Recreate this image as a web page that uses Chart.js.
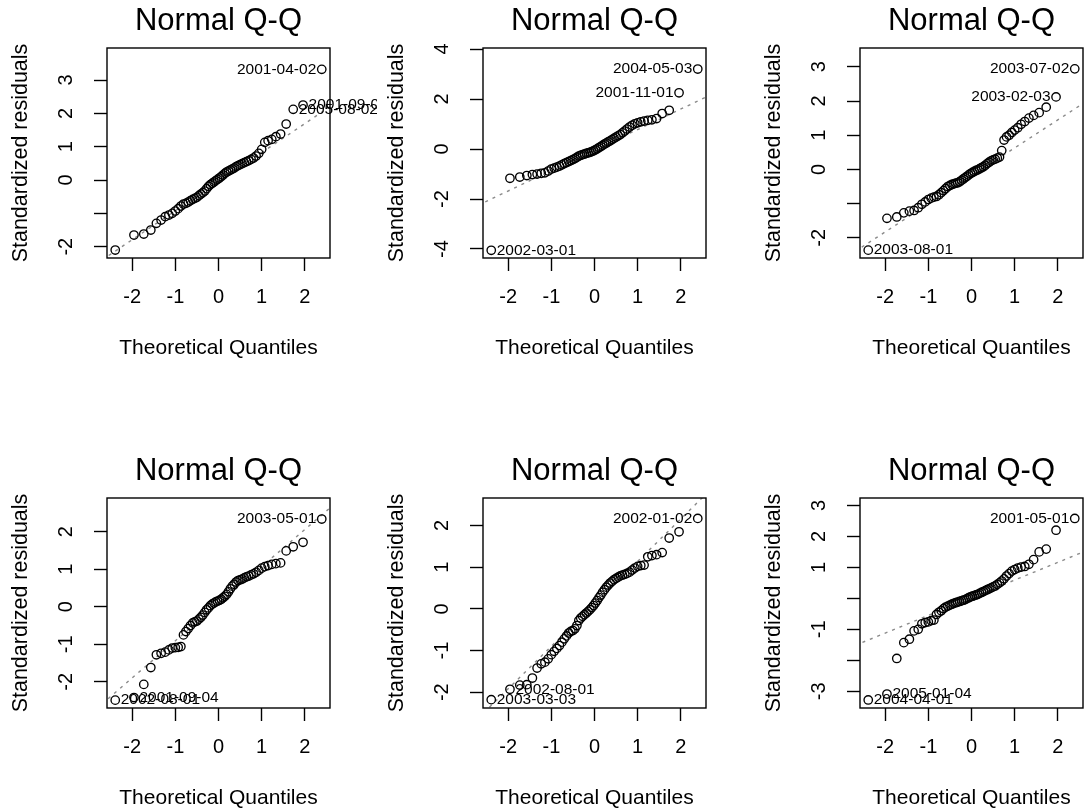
<!DOCTYPE html>
<html>
<head>
<meta charset="utf-8">
<script src="https://cdn.jsdelivr.net/npm/chart.js@4.4.1/dist/chart.umd.min.js"></script>
<style>
  html, body { margin: 0; padding: 0; background: #ffffff; width: 1085px; height: 812px; overflow: hidden; }
  #wrap { position: relative; width: 1085px; height: 812px; overflow: hidden; background: #ffffff; }
  #wrap canvas { position: absolute; }
</style>
</head>
<body>
<div id="wrap"></div>
<script>
// ---------------- DATA ----------------
const theoreticalQuantiles = [-2.394, -1.960, -1.732, -1.569, -1.440, -1.331, -1.235, -1.150, -1.073, -1.001,
  -0.935, -0.872, -0.812, -0.755, -0.701, -0.649, -0.598, -0.549, -0.501, -0.454,
  -0.408, -0.363, -0.319, -0.275, -0.232, -0.189, -0.147, -0.105, -0.063, -0.021,
  0.021, 0.063, 0.105, 0.147, 0.189, 0.232, 0.275, 0.319, 0.363, 0.408,
  0.454, 0.501, 0.549, 0.598, 0.649, 0.701, 0.755, 0.812, 0.872, 0.935,
  1.001, 1.073, 1.150, 1.235, 1.331, 1.440, 1.569, 1.732, 1.960, 2.394];

const residualsP1 = [-2.10, -1.65, -1.62, -1.50, -1.30, -1.20, -1.10, -1.05, -1.00, -0.93,
  -0.86, -0.78, -0.72, -0.70, -0.66, -0.62, -0.58, -0.55, -0.52, -0.47,
  -0.42, -0.38, -0.33, -0.26, -0.19, -0.14, -0.10, -0.06, -0.02, 0.02,
  0.06, 0.10, 0.15, 0.20, 0.24, 0.27, 0.30, 0.33, 0.36, 0.40,
  0.43, 0.46, 0.49, 0.52, 0.55, 0.58, 0.62, 0.66, 0.72, 0.80,
  0.92, 1.13, 1.18, 1.22, 1.30, 1.38, 1.68, 2.12, 2.25, 3.32];

const residualsP2 = [-4.05, -1.17, -1.12, -1.06, -1.02, -1.00, -0.97, -0.95, -0.88, -0.80,
  -0.76, -0.72, -0.68, -0.63, -0.58, -0.54, -0.50, -0.46, -0.42, -0.38,
  -0.33, -0.28, -0.25, -0.22, -0.20, -0.17, -0.15, -0.13, -0.10, -0.07,
  -0.03, 0.01, 0.06, 0.10, 0.15, 0.20, 0.24, 0.29, 0.33, 0.38,
  0.43, 0.48, 0.53, 0.58, 0.65, 0.72, 0.80, 0.88, 0.95, 1.01,
  1.05, 1.09, 1.12, 1.15, 1.17, 1.22, 1.42, 1.55, 2.25, 3.20];

const residualsP3 = [-2.36, -1.43, -1.39, -1.27, -1.22, -1.20, -1.12, -1.02, -0.95, -0.88,
  -0.84, -0.81, -0.79, -0.74, -0.68, -0.62, -0.56, -0.50, -0.47, -0.44,
  -0.42, -0.40, -0.39, -0.36, -0.32, -0.28, -0.24, -0.20, -0.16, -0.12,
  -0.09, -0.06, -0.03, -0.01, 0.02, 0.05, 0.08, 0.12, 0.17, 0.21,
  0.25, 0.28, 0.30, 0.33, 0.36, 0.55, 0.86, 0.95, 1.00, 1.08,
  1.15, 1.22, 1.32, 1.40, 1.50, 1.58, 1.66, 1.82, 2.12, 2.94];

const residualsP4 = [-2.49, -2.42, -2.07, -1.62, -1.28, -1.24, -1.21, -1.15, -1.10, -1.09,
  -1.08, -1.06, -0.75, -0.66, -0.58, -0.50, -0.43, -0.40, -0.38, -0.33,
  -0.28, -0.22, -0.15, -0.08, -0.03, 0.03, 0.07, 0.10, 0.13, 0.15,
  0.17, 0.20, 0.24, 0.28, 0.33, 0.40, 0.48, 0.55, 0.60, 0.66,
  0.70, 0.72, 0.74, 0.77, 0.80, 0.82, 0.85, 0.88, 0.92, 0.97,
  1.03, 1.07, 1.10, 1.13, 1.15, 1.17, 1.49, 1.60, 1.72, 2.34];

const residualsP5 = [-2.18, -1.93, -1.83, -1.82, -1.66, -1.42, -1.32, -1.28, -1.20, -1.10,
  -1.02, -0.95, -0.88, -0.80, -0.72, -0.65, -0.58, -0.54, -0.52, -0.48,
  -0.40, -0.28, -0.22, -0.18, -0.14, -0.10, -0.06, -0.02, 0.03, 0.08,
  0.14, 0.20, 0.27, 0.33, 0.40, 0.46, 0.52, 0.57, 0.62, 0.66,
  0.70, 0.73, 0.76, 0.79, 0.81, 0.83, 0.85, 0.88, 0.93, 0.98,
  1.02, 1.04, 1.05, 1.25, 1.28, 1.30, 1.35, 1.70, 1.85, 2.17];

const residualsP6 = [-3.28, -3.09, -1.94, -1.43, -1.32, -1.05, -1.00, -0.82, -0.78, -0.76,
  -0.72, -0.70, -0.52, -0.45, -0.40, -0.33, -0.28, -0.25, -0.22, -0.19,
  -0.16, -0.14, -0.12, -0.10, -0.08, -0.06, -0.04, -0.01, 0.02, 0.05,
  0.07, 0.09, 0.11, 0.13, 0.16, 0.19, 0.22, 0.25, 0.28, 0.31,
  0.34, 0.37, 0.40, 0.45, 0.50, 0.56, 0.63, 0.72, 0.80, 0.88,
  0.93, 0.98, 1.01, 1.03, 1.10, 1.25, 1.50, 1.59, 2.20, 2.58];

// reference (qq) line end points
const refLineX  = [-2.7, 2.7];
const refLineP1 = [-2.40, 2.30];
const refLineP2 = [-2.25, 2.17];
const refLineP3 = [-2.40, 2.02];
const refLineP4 = [-2.59, 2.75];
const refLineP5 = [-2.63, 2.87];
const refLineP6 = [-1.52, 1.56];

// axis ticks
const xTicks = [-2, -1, 0, 1, 2];
const xTickText = ['-2', '-1', '0', '1', '2'];
const xRange = [-2.585, 2.585];

const yTicksP1 = [-2, -1, 0, 1, 2, 3];      const yTickTextP1 = ['-2', '', '0', '1', '2', '3'];
const yTicksP2 = [-4, -2, 0, 2, 4];         const yTickTextP2 = ['-4', '-2', '0', '2', '4'];
const yTicksP3 = [-2, -1, 0, 1, 2, 3];      const yTickTextP3 = ['-2', '', '0', '1', '2', '3'];
const yTicksP4 = [-2, -1, 0, 1, 2];         const yTickTextP4 = ['-2', '-1', '0', '1', '2'];
const yTicksP5 = [-2, -1, 0, 1, 2];         const yTickTextP5 = ['-2', '-1', '0', '1', '2'];
const yTicksP6 = [-3, -2, -1, 0, 1, 2, 3];  const yTickTextP6 = ['-3', '', '-1', '', '1', '2', '3'];

const yRangeP1 = [-2.34, 3.96];
const yRangeP2 = [-4.36, 4.04];
const yRangeP3 = [-2.59, 3.55];
const yRangeP4 = [-2.70, 2.90];
const yRangeP5 = [-2.38, 2.66];
const yRangeP6 = [-3.54, 3.24];

// identified points: [point index, label, side of the point]
const idLabelsP1 = [[59, '2001-04-02', 'left'], [58, '2001-09-04', 'right'], [57, '2005-08-02', 'right']];
const idLabelsP2 = [[59, '2004-05-03', 'left'], [58, '2001-11-01', 'left'], [0, '2002-03-01', 'right']];
const idLabelsP3 = [[59, '2003-07-02', 'left'], [58, '2003-02-03', 'left'], [0, '2003-08-01', 'right']];
const idLabelsP4 = [[59, '2003-05-01', 'left'], [1, '2001-09-04', 'right'], [0, '2002-08-01', 'right']];
const idLabelsP5 = [[59, '2002-01-02', 'left'], [1, '2002-08-01', 'right'], [0, '2003-03-03', 'right']];
const idLabelsP6 = [[59, '2001-05-01', 'left'], [1, '2005-01-04', 'right'], [0, '2004-04-01', 'right']];

const panelTitle = 'Normal Q-Q';
const xAxisTitle = 'Theoretical Quantiles';
const yAxisTitle = 'Standardized residuals';

// ---------------- DRAWING ----------------
const FONT = '"Liberation Sans", Arial, Helvetica, sans-serif';
const INK = '#000000';

const panels = [
  { res: residualsP1, line: refLineP1, yTicks: yTicksP1, yText: yTickTextP1, yRange: yRangeP1, ids: idLabelsP1 },
  { res: residualsP2, line: refLineP2, yTicks: yTicksP2, yText: yTickTextP2, yRange: yRangeP2, ids: idLabelsP2 },
  { res: residualsP3, line: refLineP3, yTicks: yTicksP3, yText: yTickTextP3, yRange: yRangeP3, ids: idLabelsP3 },
  { res: residualsP4, line: refLineP4, yTicks: yTicksP4, yText: yTickTextP4, yRange: yRangeP4, ids: idLabelsP4 },
  { res: residualsP5, line: refLineP5, yTicks: yTicksP5, yText: yTickTextP5, yRange: yRangeP5, ids: idLabelsP5 },
  { res: residualsP6, line: refLineP6, yTicks: yTicksP6, yText: yTickTextP6, yRange: yRangeP6, ids: idLabelsP6 }
];

const colLeft = [0, 376, 753];
const rowTop = [0, 450];

const qqExtras = {
  id: 'qqExtras',
  afterDatasetsDraw(chart, args, opts) {
    const ctx = chart.ctx;
    const a = chart.chartArea;
    ctx.save();
    ctx.strokeStyle = INK;
    ctx.lineWidth = 1.4;
    ctx.strokeRect(a.left, a.top, a.right - a.left, a.bottom - a.top);
    const meta = chart.getDatasetMeta(0);
    ctx.font = '15.5px ' + FONT;
    ctx.fillStyle = INK;
    ctx.textBaseline = 'middle';
    (opts.ids || []).forEach(([i, txt, side]) => {
      const p = meta.data[i];
      if (!p) return;
      ctx.textAlign = side === 'left' ? 'right' : 'left';
      ctx.fillText(txt, p.x + (side === 'left' ? -5.5 : 5.5), p.y);
    });
    ctx.restore();
  }
};

const wrap = document.getElementById('wrap');

panels.forEach((cfg, k) => {
  const canvas = document.createElement('canvas');
  canvas.width = 377;
  canvas.height = 450;
  canvas.style.left = colLeft[k % 3] + 'px';
  canvas.style.top = rowTop[Math.floor(k / 3)] + 'px';
  wrap.appendChild(canvas);

  new Chart(canvas, {
    type: 'scatter',
    data: {
      datasets: [
        {
          data: theoreticalQuantiles.map((x, i) => ({ x: x, y: cfg.res[i] })),
          pointStyle: 'circle',
          pointRadius: 4.2,
          pointBorderWidth: 1.35,
          pointBorderColor: INK,
          pointBackgroundColor: 'rgba(0,0,0,0)',
          showLine: false,
          order: 0
        },
        {
          type: 'line',
          data: refLineX.map((x, i) => ({ x: x, y: cfg.line[i] })),
          borderColor: '#8a8a8a',
          borderWidth: 1.4,
          borderDash: [3, 5],
          pointRadius: 0,
          fill: false,
          order: 1
        }
      ]
    },
    options: {
      responsive: false,
      animation: false,
      events: [],
      layout: { padding: { left: 0, right: 47, top: 0, bottom: 0 } },
      plugins: {
        legend: { display: false },
        tooltip: { enabled: false },
        title: {
          display: true,
          text: panelTitle,
          fullSize: false,
          color: INK,
          font: { family: FONT, size: 31, weight: 'normal', lineHeight: 1.2 },
          padding: { top: 2.9, bottom: 7.9 }
        },
        qqExtras: { ids: cfg.ids }
      },
      scales: {
        x: {
          type: 'linear',
          position: 'bottom',
          min: xRange[0],
          max: xRange[1],
          afterBuildTicks: (s) => { s.ticks = xTicks.map(v => ({ value: v })); },
          afterFit: (s) => { s.height = 192; },
          ticks: {
            color: INK,
            font: { family: FONT, size: 20, lineHeight: 1.2 },
            padding: 14,
            autoSkip: false,
            minRotation: 0,
            maxRotation: 0,
            callback: (v, i) => xTickText[i]
          },
          grid: { display: true, drawOnChartArea: false, drawTicks: true, tickLength: 13, tickColor: INK, tickWidth: 1.4 },
          border: { display: false },
          title: {
            display: true,
            text: xAxisTitle,
            color: INK,
            font: { family: FONT, size: 21, lineHeight: 1.2 },
            padding: { top: 0, bottom: 89.4 }
          }
        },
        y: {
          type: 'linear',
          position: 'left',
          min: cfg.yRange[0],
          max: cfg.yRange[1],
          afterBuildTicks: (s) => { s.ticks = cfg.yTicks.map(v => ({ value: v })); },
          afterFit: (s) => { s.width = 107; },
          ticks: {
            color: INK,
            font: { family: FONT, size: 20, lineHeight: 1.2 },
            padding: 18.6,
            autoSkip: false,
            minRotation: 90,
            maxRotation: 90,
            crossAlign: 'center',
            callback: (v, i) => cfg.yText[i]
          },
          grid: { display: true, drawOnChartArea: false, drawTicks: true, tickLength: 13, tickColor: INK, tickWidth: 1.4 },
          border: { display: false },
          title: {
            display: true,
            text: yAxisTitle,
            color: INK,
            font: { family: FONT, size: 21.5, lineHeight: 1.2 },
            padding: { top: 8.2, bottom: 0 }
          }
        }
      }
    },
    plugins: [qqExtras]
  });
});
</script>
</body>
</html>
